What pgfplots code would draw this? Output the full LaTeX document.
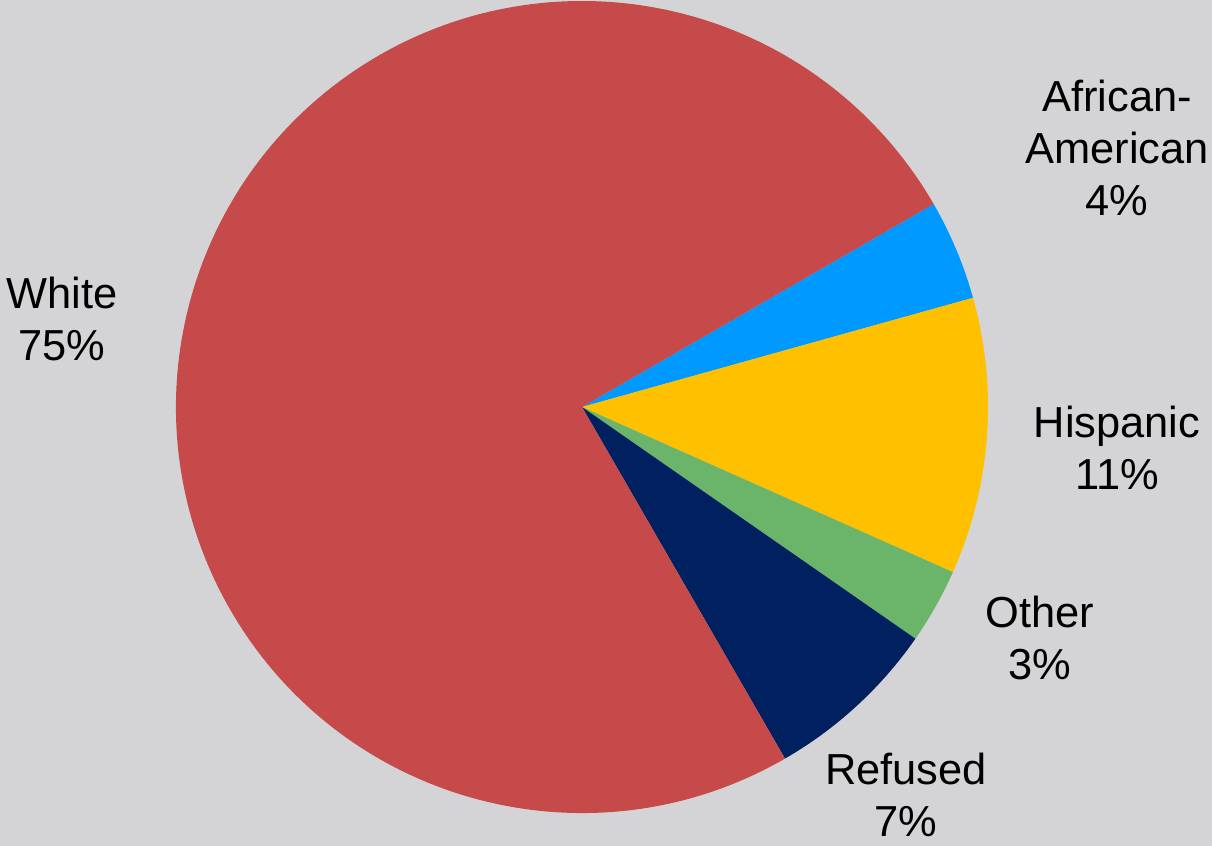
\documentclass[border=0pt]{standalone}
\usepackage{pgfplots}
\pgfplotsset{compat=1.18}
\usepackage{fontspec}
\setmainfont{Liberation Sans}
\definecolor{bgc}{HTML}{D4D4D6}
\definecolor{cred}{HTML}{C64A4A}
\definecolor{cblue}{HTML}{0099FF}
\definecolor{cyellow}{HTML}{FFC000}
\definecolor{cgreen}{HTML}{6BB56B}
\definecolor{cnavy}{HTML}{00205F}
\begin{document}
\begin{tikzpicture}
\begin{axis}[
  scale only axis, width=606pt, height=423pt,
  xmin=0, xmax=1212, ymin=0, ymax=846,
  hide axis, clip=false,
  axis background/.style={fill=bgc},
]
% percentages: African-American 4, Hispanic 11, Other 3, Refused 7, White 75 (clockwise from 30 deg)
\fill[cblue]   (axis cs:582,439) -- ++(30:203pt) arc[start angle=30, end angle={30-4*3.6}, radius=203pt] -- cycle;
\fill[cyellow] (axis cs:582,439) -- ++({30-4*3.6}:203pt) arc[start angle={30-4*3.6}, end angle={30-15*3.6}, radius=203pt] -- cycle;
\fill[cgreen]  (axis cs:582,439) -- ++({30-15*3.6}:203pt) arc[start angle={30-15*3.6}, end angle={30-18*3.6}, radius=203pt] -- cycle;
\fill[cnavy]   (axis cs:582,439) -- ++({30-18*3.6}:203pt) arc[start angle={30-18*3.6}, end angle={30-25*3.6}, radius=203pt] -- cycle;
\fill[cred]    (axis cs:582,439) -- ++({30-25*3.6}:203pt) arc[start angle={30-25*3.6}, end angle={30-100*3.6}, radius=203pt] -- cycle;
\tikzset{lab/.style={align=center, inner sep=0pt, font=\fontsize{21.7}{26}\selectfont}}
\node[lab] at (axis cs:1117,698) {African-\\American\\4\%};
\node[lab] at (axis cs:62,527) {White\\75\%};
\node[lab] at (axis cs:1117,398) {Hispanic\\11\%};
\node[lab] at (axis cs:1040,208) {Other\\3\%};
\node[lab] at (axis cs:906,51) {Refused\\7\%};
\end{axis}
\pgfresetboundingbox
\useasboundingbox (current axis.south west) rectangle (current axis.north east);
\end{tikzpicture}
\end{document}
